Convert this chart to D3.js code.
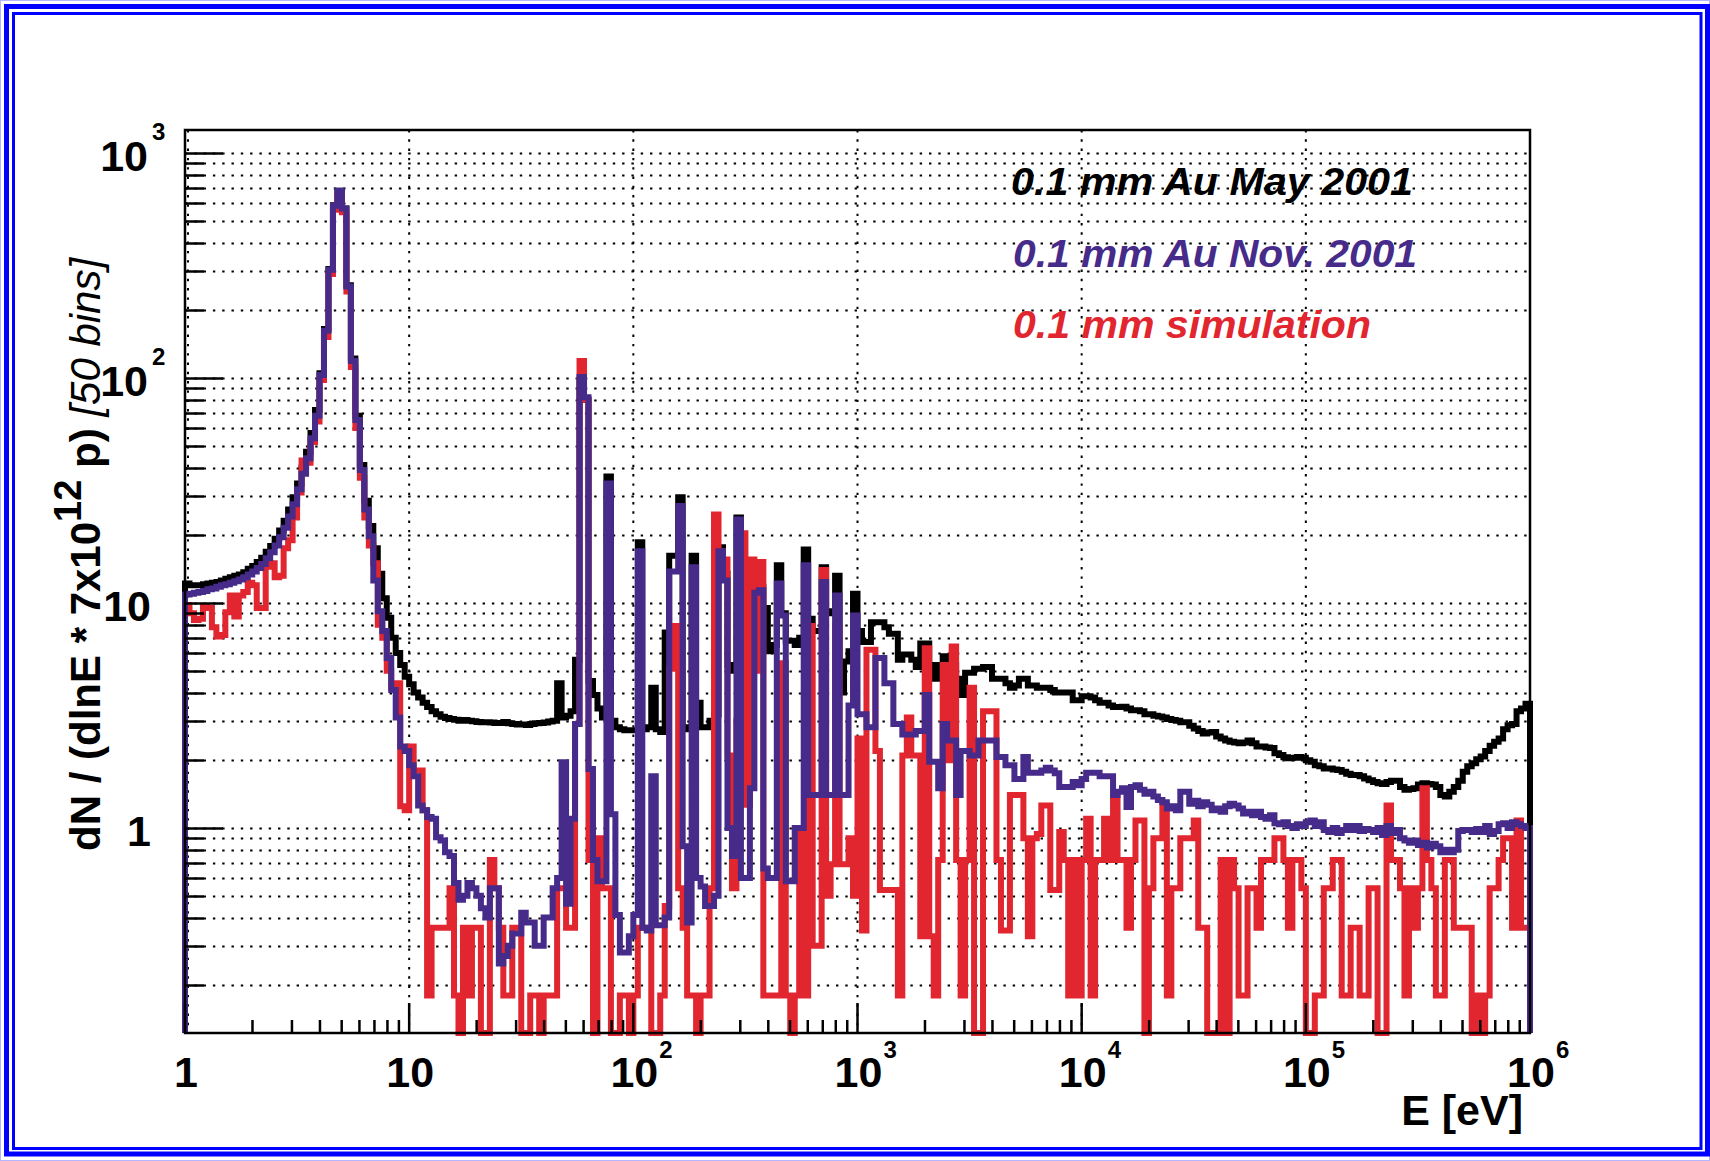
<!DOCTYPE html>
<html><head><meta charset="utf-8">
<script src="https://cdn.jsdelivr.net/npm/d3@7"></script>
<style>body{margin:0;background:#fff}svg{display:block}</style>
</head><body>
<svg id="c" width="1710" height="1161"></svg>
<script>
// ---------- data ----------
const binsPerDecade = 50;
const eMin = 1, eMax = 1e6;
const seriesNames = ["0.1 mm Au May 2001", "0.1 mm Au Nov. 2001", "0.1 mm simulation"];
const xTickValues = [1, 10, 100, 1000, 10000, 100000, 1000000];
const xTickBase = ["1", "10", "10", "10", "10", "10", "10"];
const xTickExp = ["", "", "2", "3", "4", "5", "6"];
const yTickValues = [1, 10, 100, 1000];
const yTickBase = ["1", "10", "10", "10"];
const yTickExp = ["", "", "2", "3"];

const may2001 = [
12.2,12.0,12.0,12.0,12.1,12.2,12.3,12.4,12.6,12.8,
13.0,13.2,13.4,13.7,14.2,14.6,15.2,15.9,16.9,17.9,
19.3,21.0,23.2,26.0,29.5,34,40,47,57,72,
105,165,305,585,680,566,258,122,68,41,
28.5,22,17.5,13.5,10.5,8.6,7.0,6.0,5.3,4.7,
4.35,4.0,3.8,3.6,3.45,3.3,3.2,3.12,3.08,3.05,
3.03,3.0,3.02,3.0,2.98,2.96,2.95,2.95,2.94,2.93,
2.93,2.96,2.92,2.9,2.88,2.88,2.87,2.9,2.92,2.93,
2.94,2.97,3.0,4.4,3.1,3.15,3.3,5.6,95,80,
4.5,3.9,3.4,3.1,36.5,3.0,2.8,2.75,2.72,2.72,
2.72,18.6,2.75,2.8,4.2,2.75,2.67,7.4,16.2,16.2,
29.5,2.8,2.75,16.2,3.6,2.8,2.8,3.0,3.2,17.7,
13.5,5.3,5.0,24,8.1,8.5,8.5,11.5,11.8,9.5,
6.1,6.5,14.7,9.0,6.8,6.8,6.5,7.0,17.3,8.5,
7.5,7.5,14.4,9.2,9.0,13.2,4.0,5.5,6.1,11,
7.5,6.7,6.7,8.2,8.2,8.2,7.8,7.3,7.3,5.6,
5.9,5.9,5.6,5.2,6.6,6.6,5.3,4.6,5.3,5.8,
5.3,5.3,4.6,3.9,4.9,4.9,5.1,5.1,5.2,5.2,
4.6,4.6,4.6,4.4,4.2,4.3,4.6,4.6,4.3,4.3,
4.2,4.2,4.2,4.1,4.0,4.0,4.0,4.0,3.7,3.7,
3.85,3.85,3.8,3.7,3.6,3.6,3.5,3.45,3.45,3.46,
3.4,3.34,3.34,3.3,3.2,3.2,3.15,3.13,3.1,3.05,
3.02,3.0,2.95,2.95,2.85,2.77,2.7,2.63,2.66,2.67,
2.55,2.5,2.45,2.42,2.4,2.38,2.4,2.45,2.38,2.3,
2.3,2.28,2.27,2.15,2.11,2.06,2.04,2.05,2.07,2.05,
2.0,1.97,1.9,1.88,1.84,1.84,1.82,1.81,1.78,1.74,
1.72,1.72,1.7,1.66,1.63,1.6,1.58,1.57,1.6,1.62,
1.62,1.52,1.48,1.49,1.5,1.56,1.58,1.57,1.56,1.52,
1.4,1.38,1.45,1.52,1.62,1.78,1.88,1.94,2.02,2.08,
2.2,2.32,2.42,2.5,2.75,2.86,2.9,3.3,3.4,3.57];

const nov2001 = [
10.9,11.0,11.1,11.2,11.3,11.5,11.6,11.8,12.0,12.1,
12.3,12.5,12.7,13.0,13.4,13.8,14.3,14.9,15.8,16.8,
18.0,19.6,21.6,24.2,27.5,32,37.5,44,54,68,
103,162,303,582,680,566,255,119,65,39,
26,19.8,12.6,9.2,7.5,5.7,4.1,3.1,2.3,2.2,
1.9,1.7,1.26,1.2,1.12,1.1,0.91,0.88,0.78,0.75,
0.57,0.48,0.5,0.57,0.54,0.5,0.44,0.40,0.54,0.54,
0.25,0.27,0.30,0.34,0.34,0.42,0.38,0.38,0.30,0.30,
0.40,0.40,0.54,0.6,1.96,0.46,1.1,2.9,101,82,
1.83,0.72,0.58,0.58,34,1.15,0.41,0.28,0.28,0.33,
0.41,17,0.36,0.35,1.7,0.37,0.37,0.4,13.8,13.8,
27,0.83,0.38,14.4,0.6,0.55,0.45,0.45,0.5,17,
12.6,1.0,0.75,23.5,0.6,0.6,1.5,11.1,11.4,0.66,
0.6,0.6,12.2,8.8,0.58,0.58,1.0,1.0,14.7,1.4,
1.4,1.4,12.4,1.4,1.4,10.8,1.4,1.4,3.5,8.8,
3.2,3.2,2.8,2.8,5.7,5.7,4.4,4.4,2.9,2.9,
2.6,2.6,2.6,2.7,2.7,3.9,1.97,1.97,1.5,2.9,
2.45,2.45,1.4,2.2,2.2,2.1,2.1,2.45,2.45,2.45,
2.45,2.07,2.07,1.9,1.9,1.65,1.65,2.07,1.76,1.76,
1.76,1.8,1.85,1.8,1.75,1.52,1.52,1.52,1.6,1.55,
1.65,1.76,1.76,1.76,1.7,1.7,1.7,1.4,1.45,1.5,
1.24,1.52,1.55,1.48,1.42,1.45,1.38,1.33,1.3,1.22,
1.25,1.2,1.45,1.45,1.28,1.32,1.25,1.3,1.27,1.2,
1.22,1.18,1.25,1.28,1.26,1.22,1.16,1.18,1.14,1.18,
1.12,1.1,1.14,1.05,1.04,1.06,1.02,1.0,1.04,1.02,
1.06,1.08,1.02,1.06,0.98,0.96,1.0,0.95,0.98,1.02,
0.98,1.02,0.97,0.99,0.98,0.96,1.0,0.93,1.02,0.95,
0.98,0.9,0.88,0.86,0.88,0.84,0.86,0.82,0.85,0.83,
0.78,0.8,0.78,0.8,0.97,0.98,0.98,0.96,0.99,0.96,
1.02,0.94,0.97,1.04,1.05,1.0,1.06,1.04,1.02,1.0];

const simulation = [
9.8,9.0,8.4,8.5,9.7,9.5,7.8,7.1,7.2,9.1,
10.8,8.7,10.8,11.2,12.3,12.0,9.5,9.5,14.5,15.0,
13.0,13.2,17.5,19.0,24.0,31.0,43.0,42,52,64,
98,152,290,560,650,545,242,112,60,36,
24,18,15,8,7.0,5.0,4.2,4.4,1.25,1.2,
2.3,1.8,1.8,1.2,0.18,0.36,0.36,0.36,0.36,0.54,
0.18,0,0.36,0.18,0.36,0.36,0,0,0.72,0.54,
0.36,0.18,0.18,0.36,0.36,0,0,0.18,0.18,0,
0.18,0.18,0.18,0.54,0.54,0.36,0.36,2.9,119,80,
0.72,0,0.9,0.54,0.54,0,0,0.18,0.18,0,
0.18,0.36,0.36,0.36,0,0,0.18,0.45,5.1,7.9,
0.54,0.36,0.18,0.18,0,0.18,0.18,0.54,24.7,17,
15.6,2.1,0.54,3.0,20.4,1.27,15.6,5.0,15.2,0.18,
0.18,0.18,0.18,5.4,0.18,0,0.18,1.0,0.18,7.9,
0.3,0.3,14,0.5,0.69,7.9,0.69,0.69,0.9,0.5,
2.5,0.35,6.2,6.2,2.2,0.53,0.53,0.53,0.53,0.18,
2.1,3.1,2.1,2.1,0.33,6.3,0.33,0.18,0.72,5.3,
2.0,6.4,0.72,0.18,0.72,4.2,0,0,3.3,3.3,
3.3,0.72,0.35,0.35,1.4,1.4,1.4,0.9,0.33,0.9,
0.94,1.26,1.26,0.53,0.53,0.96,0.72,0.18,0.72,0.18,
0.72,1.1,0.18,0.72,0.72,1.1,0.72,1.37,0.72,0.72,
0.36,0.72,1.08,1.08,0,0.54,0.9,0.9,1.26,0.18,
0.54,0.54,0.9,0.9,0.9,1.08,0.36,0.36,0,0,
0,0.72,0,0.72,0.54,0.18,0.18,0.54,0.54,0.36,
0.72,0.72,0.72,0.9,0.9,0.72,0.36,0.72,0.72,0.54,
0,0,0.18,0.18,0.54,0.54,0.72,0.72,0.18,0.18,
0.36,0.36,0.18,0.18,0.54,0.54,0,0,1.26,0.72,
0.72,0.54,0.18,0.54,0.36,0.54,1.5,0.72,0.54,0.18,
0.18,0.72,0.72,0.36,0.36,0.36,0.36,0,0.18,0,
0.18,0.54,0.54,0.72,0.9,0.9,0.36,1.08,0.36,0.36];

// ---------- layout ----------
const W = 1710, H = 1161;
const L = 185, R = 1530, T = 130, B = 1033;
const yMin = 0.1227, yMax = 1265;
const colBlack = "#000000", colPurple = "#472b8b", colRed = "#e1262f";

const svg = d3.select("#c");
svg.append("rect").attr("width", W).attr("height", H).attr("fill", "#fff");

// window frame
svg.append("rect").attr("x", 0.5).attr("y", 0.5).attr("width", W - 1).attr("height", H - 1)
  .attr("fill", "none").attr("stroke", "#b4b4ff").attr("stroke-width", 1);
svg.append("rect").attr("x", 6.5).attr("y", 6.5).attr("width", 1701).attr("height", 1147.5)
  .attr("fill", "none").attr("stroke", "#0000ff").attr("stroke-width", 5);
svg.append("rect").attr("x", 13.5).attr("y", 13.5).attr("width", 1687.5).attr("height", 1135)
  .attr("fill", "none").attr("stroke", "#0000ff").attr("stroke-width", 3);

const x = d3.scaleLog().domain([eMin, eMax]).range([L, R]);
const y = d3.scaleLog().domain([yMin, yMax]).range([B, T]);

// grid
const grid = svg.append("g").attr("stroke", "#000").attr("stroke-width", 2)
  .attr("stroke-dasharray", "2.4,6.9").attr("fill", "none");
const yGridVals = [];
for (let d = -1; d <= 3; d++) for (let m = 1; m <= 9; m++) {
  const v = m * Math.pow(10, d);
  if (v > yMin && v < yMax) yGridVals.push(v);
}
yGridVals.forEach(v => grid.append("line").attr("x1", L).attr("x2", R)
  .attr("y1", Math.round(y(v)) + 0.5).attr("y2", Math.round(y(v)) + 0.5));
xTickValues.forEach(v => grid.append("line").attr("x1", x(v) + (v === 1 ? 3 : 0)).attr("x2", x(v) + (v === 1 ? 3 : 0))
  .attr("y1", T).attr("y2", B));

// histograms
const edges = d3.range(0, binsPerDecade * 6 + 1).map(i => Math.pow(10, i / binsPerDecade));
function yv(v) { return v <= yMin ? B : y(v); }
function histPoints(vals) {
  const pts = [[x(edges[0]), B]];
  vals.forEach((v, i) => {
    pts.push([x(edges[i]), yv(v)]);
    pts.push([x(edges[i + 1]), yv(v)]);
  });
  pts.push([x(edges[vals.length]), B]);
  return pts;
}
const line = d3.line();
[[may2001, colBlack], [simulation, colRed], [nov2001, colPurple]].forEach(([vals, col]) => {
  svg.append("path").attr("d", line(histPoints(vals))).attr("fill", "none")
    .attr("stroke", col).attr("stroke-width", 6).attr("stroke-linejoin", "miter")
    .attr("stroke-linecap", "butt");
});

// axes frame
svg.append("rect").attr("x", L).attr("y", T).attr("width", R - L).attr("height", B - T)
  .attr("fill", "none").attr("stroke", "#000").attr("stroke-width", 2.5);
const ticks = svg.append("g").attr("stroke", "#000").attr("stroke-width", 2.5);
yGridVals.forEach(v => {
  const major = yTickValues.includes(v);
  ticks.append("line").attr("x1", L).attr("x2", L + (major ? 38 : 19))
    .attr("y1", Math.round(y(v)) + 0.5).attr("y2", Math.round(y(v)) + 0.5);
});
for (let d = 0; d <= 5; d++) for (let m = 1; m <= 9; m++) {
  const v = m * Math.pow(10, d);
  const xx = x(v);
  ticks.append("line").attr("x1", xx).attr("x2", xx).attr("y1", B).attr("y2", B - (m === 1 ? 30 : 13));
}

// tick labels
const font = "'Liberation Sans', Arial, Helvetica, sans-serif";
const lab = svg.append("g").attr("font-family", font).attr("font-weight", "bold").attr("fill", "#000");
yTickValues.forEach((v, i) => {
  const yy = y(v);
  if (yTickExp[i]) {
    lab.append("text").attr("x", 148).attr("y", yy + 18).attr("text-anchor", "end")
      .attr("font-size", 43).text(yTickBase[i]);
    lab.append("text").attr("x", 152).attr("y", yy - 13).attr("font-size", 24).text(yTickExp[i]);
  } else {
    lab.append("text").attr("x", 151).attr("y", yy + 18).attr("text-anchor", "end")
      .attr("font-size", 43).text(yTickBase[i]);
  }
});
xTickValues.forEach((v, i) => {
  const xx = x(v);
  lab.append("text").attr("x", xx + 1).attr("y", 1087).attr("text-anchor", "middle")
    .attr("font-size", 43).text(xTickBase[i]);
  if (xTickExp[i]) lab.append("text").attr("x", xx + 26).attr("y", 1058)
    .attr("font-size", 24).text(xTickExp[i]);
});

// axis titles
lab.append("text").attr("x", 1523).attr("y", 1125).attr("text-anchor", "end")
  .attr("font-size", 43).text("E [eV]");
const yt = lab.append("text").attr("transform", "translate(100,851) rotate(-90)")
  .attr("font-size", 42);
yt.append("tspan").text("dN / (dlnE * 7x10");
yt.append("tspan").attr("font-size", 38).attr("dy", -19).text("12");
yt.append("tspan").attr("dy", 19).text(" p) ");
yt.append("tspan").attr("font-weight", "normal").attr("font-style", "italic").text("[50 bins]");

// legend texts
const legY = [195, 267, 338];
const legX = [1011, 1013, 1013];
const legLen = [402, 404, 358];
const legCol = [colBlack, colPurple, colRed];
seriesNames.forEach((s, i) => {
  svg.append("text").attr("x", legX[i]).attr("y", legY[i])
    .attr("font-family", font).attr("font-weight", "bold").attr("font-style", "italic")
    .attr("font-size", 38).attr("fill", legCol[i])
    .attr("textLength", legLen[i]).attr("lengthAdjust", "spacingAndGlyphs").text(s);
});
</script>
</body></html>
